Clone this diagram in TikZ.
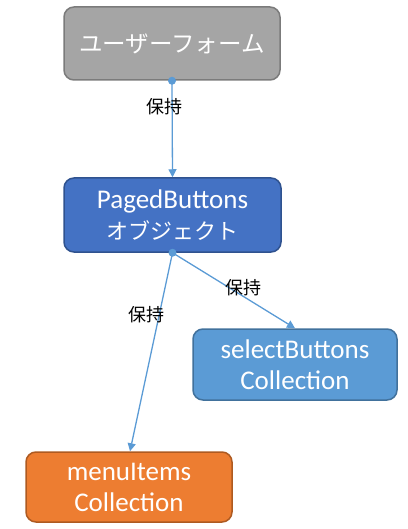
\documentclass[tikz,border=0pt]{standalone}
\usepackage{fontspec}
\setmainfont{Carlito}
\newfontfamily\jpfont{Noto Sans CJK JP}
\usetikzlibrary{arrows.meta, positioning}

\definecolor{formgray}{HTML}{A5A5A5}
\definecolor{formgrayline}{HTML}{7B7B7B}
\definecolor{pagedblue}{HTML}{4472C4}
\definecolor{pagedblueline}{HTML}{2F528F}
\definecolor{selblue}{HTML}{5B9BD5}
\definecolor{selblueline}{HTML}{41719C}
\definecolor{menuorange}{HTML}{ED7D31}
\definecolor{menuorangeline}{HTML}{AE5A21}
\definecolor{linkblue}{HTML}{5B9BD5}

\tikzset{
	objbox/.style={rounded corners=10pt, line width=1.5pt, text=white,
		font=\fontsize{27}{31}\selectfont, align=center, inner sep=0pt}
}
\tikzset{
	holdlabel/.style={font=\fontsize{18}{20}\selectfont\jpfont, text=black}
}
\tikzset{
	holdlink/.style={draw=linkblue, line width=1.3pt,
		-{Triangle[length=8pt,width=8pt]}}
}

\begin{document}
\begin{tikzpicture}[x=1pt,y=-1pt]
      \useasboundingbox (0,0) rectangle (407,529);

      % objects
      \node[objbox, fill=formgray, draw=formgrayline,
        minimum width=216pt, minimum height=73pt] (form) at (172,43.5)
        {\fontsize{23.5}{27}\selectfont\jpfont ユーザーフォーム};
      \node[objbox, fill=pagedblue, draw=pagedblueline,
        minimum width=217pt, minimum height=74pt] (paged) at (172.5,215)
        {PagedButtons\\{\fontsize{22}{24}\selectfont\jpfont オブジェクト}};
      \node[objbox, fill=selblue, draw=selblueline,
        minimum width=204pt, minimum height=71pt] (select) at (295,364.5)
        {selectButtons\\Collection};
      \node[objbox, fill=menuorange, draw=menuorangeline,
        minimum width=206pt, minimum height=70pt] (menu) at (129,487)
        {menuItems\\Collection};

      % holding links
      \draw[holdlink] (form.south) -- (paged.north);
      \draw[holdlink] (paged.south) -- (select.north);
      \draw[holdlink] (paged.south) -- ([xshift=1pt]menu.north);
      \foreach \src in {form, paged} {
        \fill[linkblue] (\src.south) circle (4pt);
      }

      % labels
      \node[holdlabel] (holdA) at (164,107) {保持};
      \node[holdlabel] (holdB) at (243,288) {保持};
      \node[holdlabel] (holdC) at (146,315) {保持};
    \end{tikzpicture}
\end{document}
